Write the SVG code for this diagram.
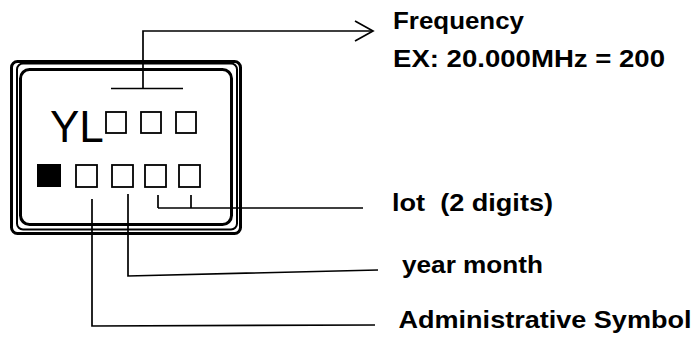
<svg xmlns="http://www.w3.org/2000/svg" width="698" height="340" viewBox="0 0 698 340">
<style>
.frame{fill:none;stroke:#000}
.sq{fill:#fff;stroke:#000;stroke-width:1.8}
.ln{fill:none;stroke:#000;stroke-width:1.7}
.lbl{font-family:"Liberation Sans",Arial,sans-serif;font-weight:bold;font-size:24px;fill:#000;white-space:pre}
.mark{font-family:"Liberation Sans",Arial,sans-serif;font-size:44px;fill:#000}
</style>
<rect width="698" height="340" fill="#fff"/>
<g id="chip">
<rect class="frame" x="11.5" y="61.5" width="229" height="172" rx="6" stroke-width="3"/>
<rect class="frame" x="17" y="63.5" width="220" height="166" rx="6" stroke-width="2"/>
<rect class="frame" x="20.5" y="69.5" width="211" height="155" rx="9" stroke-width="3"/>
<text class="mark" x="50" y="142">YL</text>
<rect class="sq" x="106" y="112" width="20" height="21"/>
<rect class="sq" x="141" y="112" width="20" height="21"/>
<rect class="sq" x="176" y="112" width="20" height="21"/>
<rect x="37" y="164" width="24" height="23" fill="#000"/>
<rect class="sq" x="76" y="165" width="21" height="22"/>
<rect class="sq" x="112" y="165" width="21" height="22"/>
<rect class="sq" x="145" y="165" width="21" height="22"/>
<rect class="sq" x="179" y="165" width="21" height="22"/>
</g>
<g id="connectors">
<path class="ln" d="M111,88.5 H183 M143,88.5 V31 H373"/>
<polyline class="ln" points="355,21 373,31 355,41"/>
<path class="ln" d="M158,195 V208 M191,195 V208 M158,208 H363"/>
<path class="ln" d="M128,194 V276 L378,270"/>
<path class="ln" d="M92,199 V326 L375,325"/>
</g>
<g id="label-frequency">
<text class="lbl" x="393" y="29" textLength="131" lengthAdjust="spacingAndGlyphs">Frequency</text>
<text class="lbl" x="393" y="66.5" textLength="272" lengthAdjust="spacingAndGlyphs">EX: 20.000MHz = 200</text>
</g>
<g id="label-lot">
<text class="lbl" x="392" y="210.5" textLength="161" lengthAdjust="spacingAndGlyphs">lot  (2 digits)</text>
</g>
<g id="label-year-month">
<text class="lbl" x="402" y="272.5" textLength="141" lengthAdjust="spacingAndGlyphs">year month</text>
</g>
<g id="label-admin">
<text class="lbl" x="398.5" y="328" textLength="293" lengthAdjust="spacingAndGlyphs">Administrative Symbol</text>
</g>
</svg>
